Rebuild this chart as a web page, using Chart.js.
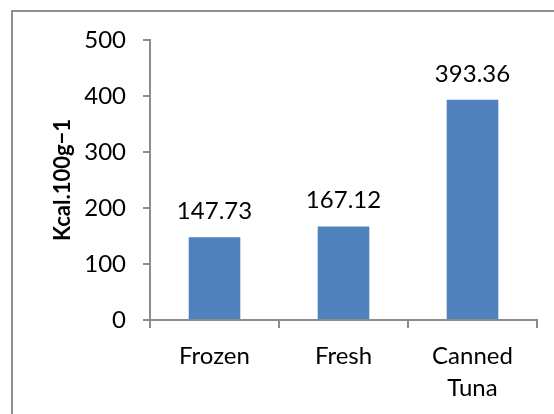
<!DOCTYPE html>
<html>
<head>
<meta charset="utf-8">
<script src="https://cdn.jsdelivr.net/npm/chart.js@4/dist/chart.umd.min.js"></script>
<style>
  html, body { margin: 0; padding: 0; background: #fff; }
  #wrap { position: relative; width: 554px; height: 414px; overflow: hidden; }
  #frame { position: absolute; left: 11px; top: 10px; width: 700px; height: 600px;
           border-left: 2px solid #8f8f8f; border-top: 2px solid #8f8f8f; }
  canvas { position: absolute; left: 0; top: 0; }
</style>
</head>
<body>
<div id="wrap">
  <div id="frame"></div>
  <canvas id="chart" width="554" height="414"></canvas>
</div>
<script>
// Energy content per 100 g for each tuna type
const categories = [["Frozen"], ["Fresh"], ["Canned", "Tuna"]];
const energyValues = [147.73, 167.12, 393.36];
const yTicks = [0, 100, 200, 300, 400, 500];
const axisTitle = "Kcal.100g\u22121";

const FONT = "Lato";
const AXIS_COLOR = "#8c8c8c";

// Writes the value above each bar
const valueLabels = {
  id: "valueLabels",
  afterDatasetsDraw(chart) {
    const ctx = chart.ctx;
    const meta = chart.getDatasetMeta(0);
    ctx.save();
    ctx.font = "24px " + FONT;
    ctx.fillStyle = "#000";
    ctx.textAlign = "center";
    ctx.textBaseline = "alphabetic";
    meta.data.forEach((bar, i) => {
      ctx.fillText(energyValues[i].toFixed(2), bar.x, bar.y - 18);
    });
    ctx.restore();
  }
};

new Chart(document.getElementById("chart"), {
  type: "bar",
  data: {
    labels: categories,
    datasets: [{
      data: energyValues,
      backgroundColor: "#4f81bd",
      borderWidth: 0,
      barPercentage: 0.4,
      categoryPercentage: 1.0
    }]
  },
  options: {
    responsive: false,
    animation: false,
    devicePixelRatio: 1,
    layout: { padding: { left: 40, top: 40, right: 17, bottom: 0 } },
    plugins: { legend: { display: false }, tooltip: { enabled: false } },
    scales: {
      x: {
        offset: true,
        grid: { offset: true, drawOnChartArea: false, tickLength: 8, color: AXIS_COLOR, lineWidth: 2 },
        border: { color: AXIS_COLOR, width: 2 },
        ticks: { color: "#000", font: { family: FONT, size: 24, lineHeight: 1.3 }, padding: 13, maxRotation: 0 },
        afterFit(scale) { scale.height = 94; }
      },
      y: {
        min: 0,
        max: 500,
        afterBuildTicks(scale) { scale.ticks = yTicks.map(v => ({ value: v })); },
        grid: { drawOnChartArea: false, tickLength: 7, color: AXIS_COLOR, lineWidth: 2 },
        border: { color: AXIS_COLOR, width: 2 },
        ticks: { color: "#000", font: { family: FONT, size: 24 }, padding: 17 },
        title: {
          display: true,
          text: axisTitle,
          color: "#000",
          font: { family: FONT, size: 22, weight: "bold" },
          padding: { top: 10, bottom: 0 }
        },
        afterFit(scale) { scale.width = 110; }
      }
    }
  },
  plugins: [valueLabels]
});
</script>
</body>
</html>
